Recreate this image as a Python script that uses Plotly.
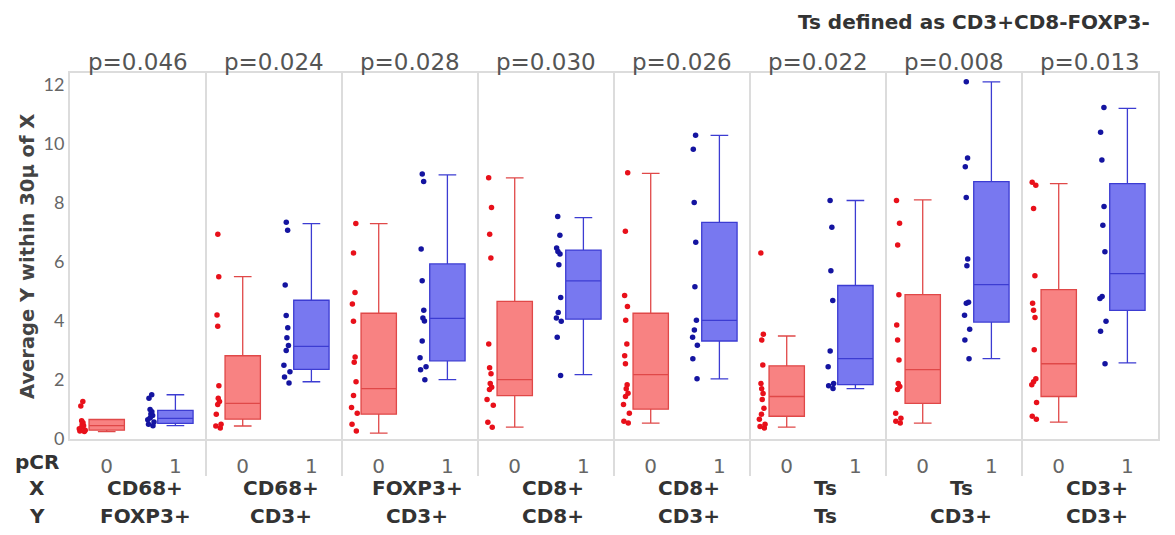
import plotly.graph_objects as go

# ---------------- data ----------------
x_labels = ["CD68+", "CD68+", "FOXP3+", "CD8+", "CD8+", "Ts", "Ts", "CD3+"]
y_labels = ["FOXP3+", "CD3+", "CD3+", "CD8+", "CD3+", "Ts", "CD3+", "CD3+"]
p_values = ["p=0.046", "p=0.024", "p=0.028", "p=0.030", "p=0.026", "p=0.022", "p=0.008", "p=0.013"]
pcr_levels = ["0", "1"]

red_points = [
    [1.27, 1.12, 0.62, 0.55, 0.5, 0.45, 0.4, 0.35, 0.3, 0.27, 0.25],
    [6.94, 5.5, 4.2, 3.82, 1.8, 1.38, 1.27, 1.17, 0.84, 0.5, 0.44, 0.37],
    [7.3, 6.3, 4.96, 4.57, 3.99, 2.78, 2.6, 1.94, 1.47, 1.07, 0.87, 0.5, 0.27],
    [8.85, 7.84, 6.94, 6.13, 3.22, 2.41, 2.21, 1.88, 1.75, 1.68, 1.34, 1.14, 0.57, 0.4],
    [9.02, 7.04, 4.86, 4.49, 4.02, 3.22, 2.82, 2.55, 1.84, 1.7, 1.55, 1.44, 1.17, 0.87, 0.6, 0.54],
    [6.3, 3.55, 3.35, 2.51, 1.88, 1.7, 1.54, 1.34, 1.04, 0.84, 0.67, 0.5, 0.42, 0.37],
    [8.08, 7.31, 6.57, 4.89, 3.86, 3.35, 2.68, 1.88, 1.78, 1.68, 0.87, 0.7, 0.6, 0.54],
    [8.7, 8.6, 7.81, 5.53, 4.6, 4.36, 4.12, 3.02, 2.04, 1.94, 1.84, 1.24, 0.77, 0.67],
]
blue_points = [
    [1.5, 1.38, 1.0, 0.92, 0.85, 0.8, 0.72, 0.65, 0.58, 0.5, 0.45],
    [7.34, 7.07, 5.22, 4.18, 3.77, 3.43, 3.17, 3.0, 2.5, 2.28, 2.1, 1.9],
    [8.98, 8.72, 6.44, 5.36, 4.36, 4.1, 4.0, 3.32, 2.75, 2.45, 2.35, 2.01],
    [7.54, 6.9, 6.47, 6.35, 6.27, 5.9, 4.79, 4.29, 4.1, 3.99, 3.45, 2.15],
    [10.29, 9.82, 8.01, 6.67, 5.16, 4.02, 3.69, 3.45, 3.18, 2.72, 2.04],
    [8.08, 7.17, 5.7, 4.69, 2.98, 2.45, 1.88, 1.8, 1.71],
    [12.1, 9.52, 9.22, 8.18, 6.1, 5.87, 4.63, 4.6, 4.19, 3.72, 3.35, 2.72],
    [11.23, 10.39, 9.45, 7.88, 7.24, 6.34, 4.83, 4.76, 3.99, 3.65, 2.55],
]

red_q1 = [0.3, 0.67, 0.84, 1.47, 1.01, 0.77, 1.21, 1.44]
red_median = [0.45, 1.21, 1.71, 2.01, 2.18, 1.44, 2.35, 2.55]
red_q3 = [0.66, 2.82, 4.26, 4.66, 4.26, 2.48, 4.89, 5.06]
red_lower = [0.25, 0.44, 0.2, 0.4, 0.54, 0.4, 0.54, 0.57]
red_upper = [0.66, 5.5, 7.3, 8.85, 9.0, 3.49, 8.1, 8.65]

blue_q1 = [0.53, 2.36, 2.65, 4.06, 3.32, 1.84, 3.96, 4.36]
blue_median = [0.7, 3.14, 4.09, 5.36, 4.02, 2.72, 5.23, 5.6]
blue_q3 = [0.97, 4.7, 5.93, 6.4, 7.34, 5.2, 8.72, 8.65]
blue_lower = [0.45, 1.94, 2.01, 2.18, 2.04, 1.71, 2.72, 2.58]
blue_upper = [1.5, 7.3, 8.95, 7.5, 10.29, 8.08, 12.1, 11.2]

# ---------------- layout constants (screen px; page body has an 8px margin) ----------------
PAGE = 8
W, H = 1175 - PAGE, 535 - PAGE
PLOT_L, PLOT_R, PLOT_T, PLOT_B = 70, 1158, 73, 439   # plot area on screen
L = PLOT_L - PAGE
T = PLOT_T - PAGE
R = W - (PLOT_R - PAGE)
B = H - (PLOT_B - PAGE)
PW, PH = PLOT_R - PLOT_L, PLOT_B - PLOT_T
n = len(x_labels)
OFF0, OFF1 = 0.27, 0.775
BOXW = 0.26

RED_FILL, RED_LINE, RED_PT = "#f88282", "#e04848", "#e8101a"
BLUE_FILL, BLUE_LINE, BLUE_PT = "#7878f0", "#3c3cd2", "#1414a0"


def py(ypx):
    return (PLOT_B - ypx) / PH


def px(xpx):
    return (xpx - PLOT_L) / PW


fig = go.Figure()

groups = [
    (OFF0, red_points, red_q1, red_median, red_q3, red_lower, red_upper, RED_FILL, RED_LINE, RED_PT),
    (OFF1, blue_points, blue_q1, blue_median, blue_q3, blue_lower, blue_upper, BLUE_FILL, BLUE_LINE, BLUE_PT),
]

for i in range(n):
    for off, pts, q1, med, q3, lo, hi, fill, line, ptc in groups:
        pos = i + off
        fig.add_trace(go.Box(
            x=[pos], q1=[q1[i]], median=[med[i]], q3=[q3[i]],
            lowerfence=[lo[i]], upperfence=[hi[i]],
            width=BOXW, whiskerwidth=0.5,
            fillcolor=fill, line=dict(color=line, width=1.3),
            boxpoints=False, showlegend=False, hoverinfo="skip",
        ))
        fig.add_trace(go.Box(
            x=[pos] * len(pts[i]), y=pts[i],
            width=BOXW, boxpoints="all", jitter=0.22, pointpos=-1.38,
            fillcolor="rgba(0,0,0,0)", line=dict(color="rgba(0,0,0,0)", width=0),
            marker=dict(color=ptc, size=5.5),
            showlegend=False,
        ))

tickvals = []
ticktext = []
for i in range(n):
    tickvals += [i + OFF0, i + OFF1]
    ticktext += pcr_levels

for i in range(1, n):
    fig.add_shape(type="line", xref="x", yref="paper", x0=i, x1=i,
                  y0=py(476), y1=1, line=dict(color="#dcdcdc", width=2), layer="below")

ann = []
for i in range(n):
    mid = i + (OFF0 + OFF1) / 2 + 0.03
    ann.append(dict(x=i + 0.5, y=py(62), xref="x", yref="paper", text=p_values[i],
                    showarrow=False, yanchor="middle",
                    font=dict(family="DejaVu Sans", size=23, color="#555555")))
    ann.append(dict(x=mid, y=py(488), xref="x", yref="paper", text="<b>%s</b>" % x_labels[i],
                    showarrow=False, yanchor="middle",
                    font=dict(family="DejaVu Sans", size=20, color="#333333")))
    ann.append(dict(x=mid, y=py(516), xref="x", yref="paper", text="<b>%s</b>" % y_labels[i],
                    showarrow=False, yanchor="middle",
                    font=dict(family="DejaVu Sans", size=20, color="#333333")))

for txt, ypx in [("pCR", 462), ("X", 488), ("Y", 516)]:
    ann.append(dict(x=px(37), y=py(ypx), xref="paper", yref="paper", text="<b>%s</b>" % txt,
                    showarrow=False, xanchor="center", yanchor="middle",
                    font=dict(family="DejaVu Sans", size=20, color="#333333")))

ann.append(dict(x=px(27), y=py(257), xref="paper", yref="paper",
                text="<b>Average Y within 30μ of X</b>", textangle=-90, showarrow=False,
                xanchor="center", yanchor="middle",
                font=dict(family="DejaVu Sans", size=19.5, color="#444444")))
ann.append(dict(x=px(1152), y=py(22), xref="paper", yref="paper", xanchor="right", yanchor="middle",
                text="<b>Ts defined as CD3+CD8-FOXP3-</b>", showarrow=False,
                font=dict(family="DejaVu Sans", size=20, color="#333333")))

fig.update_layout(
    width=W, height=H,
    margin=dict(l=L, r=R, t=T, b=B, pad=0),
    paper_bgcolor="white", plot_bgcolor="white",
    boxmode="overlay",
    showlegend=False,
    annotations=ann,
    xaxis=dict(range=[0, n], tickvals=tickvals, ticktext=ticktext,
               showgrid=False, zeroline=False, showline=True, mirror=True,
               linecolor="#dcdcdc", linewidth=2,
               ticks="outside", ticklen=8, tickcolor="rgba(0,0,0,0)",
               tickfont=dict(family="DejaVu Sans", size=20, color="#666666")),
    yaxis=dict(range=[0, 12.4], tickvals=[0, 2, 4, 6, 8, 10, 12],
               showgrid=False, zeroline=False, showline=True, mirror=True,
               linecolor="#dcdcdc", linewidth=2,
               ticks="", tickfont=dict(family="Lato", size=18, color="#666666")),
)

fig.write_html("out.html")
